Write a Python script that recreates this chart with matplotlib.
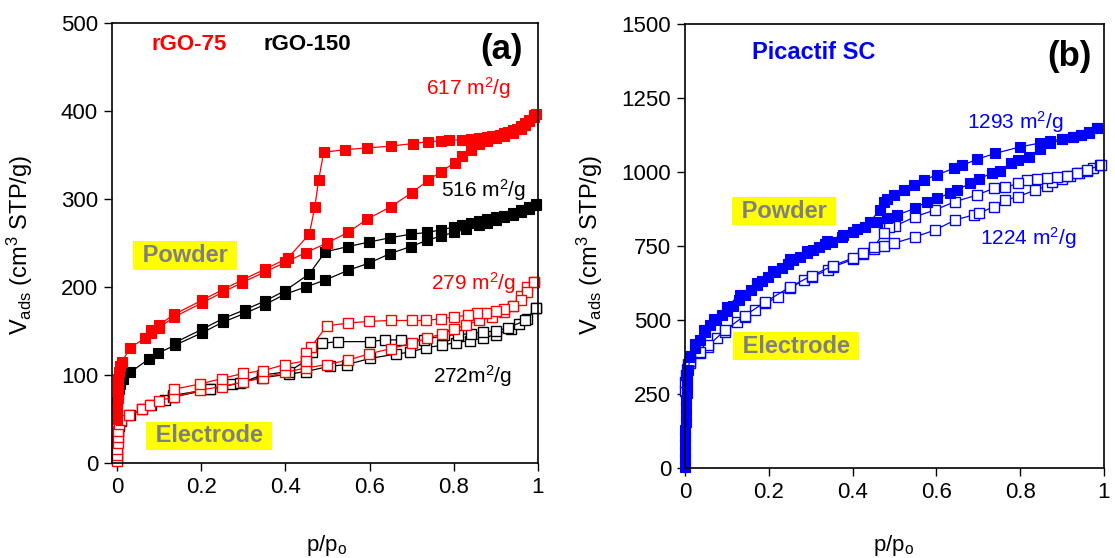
import matplotlib
matplotlib.use('Agg')
import matplotlib.pyplot as plt

plt.rcParams['font.family'] = ['Liberation Sans', 'DejaVu Sans']
plt.rcParams['mathtext.fontset'] = 'custom'
plt.rcParams['mathtext.rm'] = 'Liberation Sans'
plt.rcParams['mathtext.it'] = 'Liberation Sans:italic'
plt.rcParams['mathtext.bf'] = 'Liberation Sans:bold'

# ---- panel (a): rGO-75 / rGO-150, powder (filled) and electrode (open) ----
rgo75_pow_ads_x = [0.0005, 0.001, 0.0015, 0.002, 0.003, 0.005, 0.008, 0.012, 0.031, 0.067, 0.08, 0.1, 0.136,
                   0.202, 0.251, 0.297, 0.351, 0.40, 0.448, 0.499, 0.549, 0.594, 0.65, 0.70, 0.739, 0.769,
                   0.802, 0.82, 0.84, 0.86, 0.88, 0.90, 0.92, 0.94, 0.96, 0.97, 0.98, 0.99, 0.995]
rgo75_pow_ads_y = [50, 62, 74, 85, 95, 103, 110, 115, 131, 142, 148, 154, 166,
                   182, 194, 205, 217, 228, 239, 250, 262, 277, 291, 307, 321, 331,
                   341, 349, 356, 362, 366, 369, 372, 375, 380, 384, 388, 393, 396]
rgo75_pow_des_x = [0.99, 0.98, 0.97, 0.96, 0.95, 0.94, 0.93, 0.92, 0.91, 0.90, 0.89, 0.88, 0.87, 0.86,
                   0.84, 0.82, 0.79, 0.771, 0.739, 0.703, 0.65, 0.594, 0.541, 0.491, 0.479, 0.470,
                   0.457, 0.406, 0.351, 0.297, 0.251, 0.202, 0.136, 0.1, 0.08]
rgo75_pow_des_y = [395, 390, 386, 383, 380, 378, 376, 375, 373, 372, 371, 370, 369, 369,
                   368, 367, 367, 366, 365, 363, 360, 358, 356, 353, 321, 291,
                   260, 233, 220, 208, 197, 185, 169, 157, 151]

rgo150_pow_ads_x = [0.0005, 0.001, 0.002, 0.004, 0.008, 0.015, 0.031, 0.075, 0.098, 0.138, 0.202, 0.251,
                    0.303, 0.351, 0.40, 0.448, 0.495, 0.549, 0.598, 0.649, 0.698, 0.737, 0.77, 0.80,
                    0.83, 0.86, 0.88, 0.90, 0.92, 0.94, 0.96, 0.98, 0.995]
rgo150_pow_ads_y = [60, 70, 78, 84, 90, 96, 103, 118, 125, 134, 148, 160,
                    170, 180, 192, 200, 208, 219, 227, 238, 246, 253, 258, 262,
                    266, 270, 273, 276, 279, 282, 285, 289, 293]
rgo150_pow_des_x = [0.995, 0.98, 0.96, 0.94, 0.92, 0.90, 0.88, 0.86, 0.84, 0.82, 0.80, 0.77, 0.737,
                    0.698, 0.649, 0.598, 0.549, 0.495, 0.457, 0.40, 0.351, 0.303, 0.251, 0.202, 0.138]
rgo150_pow_des_y = [294, 291, 287, 284, 281, 279, 277, 275, 273, 271, 268, 265, 262,
                    260, 256, 251, 246, 240, 215, 196, 184, 174, 164, 152, 137]

rgo75_el_ads_x = [0.0003, 0.0006, 0.001, 0.0015, 0.002, 0.003, 0.005, 0.009, 0.029, 0.059, 0.079, 0.1,
                  0.136, 0.198, 0.249, 0.30, 0.348, 0.398, 0.448, 0.499, 0.549, 0.598, 0.65, 0.70,
                  0.737, 0.773, 0.80, 0.83, 0.86, 0.89, 0.92, 0.94, 0.96, 0.975, 0.99]
rgo75_el_ads_y = [2, 9, 16, 23, 30, 37, 44, 49, 55, 61, 66, 71,
                  75, 83, 87, 92, 97, 103, 108, 112, 117, 124, 130, 136,
                  142, 147, 152, 157, 162, 166, 172, 179, 190, 200, 206]
rgo75_el_des_x = [0.99, 0.975, 0.96, 0.94, 0.92, 0.90, 0.877, 0.855, 0.835, 0.80, 0.769, 0.733, 0.70,
                  0.65, 0.598, 0.549, 0.499, 0.461, 0.448, 0.448, 0.398, 0.348, 0.30, 0.249, 0.198, 0.136]
rgo75_el_des_y = [206, 194, 185, 179, 175, 173, 171, 170, 168, 166, 164, 162, 162,
                  162, 161, 159, 156, 132, 125, 116, 112, 105, 102, 96, 90, 84]

rgo150_el_ads_x = [0.0003, 0.0006, 0.001, 0.002, 0.004, 0.01, 0.03, 0.06, 0.08, 0.114, 0.134, 0.221,
                   0.273, 0.344, 0.408, 0.448, 0.505, 0.547, 0.602, 0.664, 0.696, 0.733, 0.773, 0.805,
                   0.838, 0.87, 0.90, 0.935, 0.956, 0.975, 0.995]
rgo150_el_ads_y = [5, 15, 25, 35, 42, 48, 55, 61, 66, 72, 77, 84,
                   90, 97, 101, 104, 110, 112, 119, 124, 126, 131, 134, 137,
                   139, 142, 146, 152, 158, 164, 176]
rgo150_el_des_x = [0.995, 0.97, 0.93, 0.90, 0.87, 0.84, 0.81, 0.777, 0.729, 0.674, 0.636, 0.60, 0.525,
                   0.487, 0.463, 0.448, 0.408, 0.344, 0.293, 0.221, 0.134]
rgo150_el_des_y = [176, 162, 154, 150, 149, 147, 146, 145, 140, 140, 140, 138, 138,
                   136, 126, 116, 104, 100, 91, 84, 75]

# ---- panel (b): Picactif SC ----
pic_pow_ads_x = [0.0002, 0.0004, 0.0006, 0.0008, 0.001, 0.0012, 0.0015, 0.002, 0.0025, 0.003, 0.004,
                 0.005, 0.006, 0.008, 0.012, 0.024, 0.036, 0.048, 0.06, 0.074, 0.088, 0.10, 0.115, 0.13,
                 0.143, 0.157, 0.171, 0.185, 0.199, 0.215, 0.231, 0.245, 0.259, 0.275, 0.291, 0.305,
                 0.319, 0.335, 0.35, 0.374, 0.402, 0.43, 0.458, 0.482, 0.506, 0.55, 0.577, 0.601,
                 0.633, 0.649, 0.681, 0.701, 0.733, 0.753, 0.777, 0.796, 0.82, 0.848, 0.872, 0.90,
                 0.925, 0.945, 0.965, 0.984]
pic_pow_ads_y = [5, 30, 55, 80, 105, 130, 155, 180, 205, 230, 255,
                 280, 305, 330, 376, 405, 432, 458, 483, 500, 517, 532, 547, 566,
                 584, 601, 618, 632, 646, 661, 675, 689, 703, 714, 727, 737,
                 748, 757, 765, 781, 798, 815, 832, 843, 855, 877, 900, 911,
                 928, 939, 962, 977, 996, 1005, 1029, 1041, 1052, 1078, 1097, 1110,
                 1118, 1125, 1133, 1147]
pic_pow_des_x = [0.984, 0.965, 0.945, 0.925, 0.90, 0.872, 0.848, 0.80, 0.741, 0.697, 0.661, 0.641,
                 0.601, 0.57, 0.546, 0.522, 0.498, 0.482, 0.474, 0.465, 0.442, 0.41, 0.378, 0.339,
                 0.291, 0.251, 0.211, 0.171, 0.131, 0.10, 0.07, 0.045, 0.025, 0.012]
pic_pow_des_y = [1147, 1135, 1126, 1119, 1112, 1104, 1098, 1085, 1063, 1043, 1022, 1012,
                 990, 973, 956, 939, 922, 910, 900, 872, 832, 806, 788, 766,
                 732, 705, 665, 624, 585, 545, 505, 465, 420, 380]

pic_el_ads_x = [0.0003, 0.001, 0.002, 0.004, 0.007, 0.012, 0.036, 0.056, 0.076, 0.096, 0.124, 0.143,
                0.167, 0.191, 0.223, 0.251, 0.283, 0.303, 0.342, 0.354, 0.402, 0.426, 0.45, 0.474,
                0.498, 0.55, 0.597, 0.645, 0.689, 0.701, 0.737, 0.765, 0.796, 0.836, 0.864, 0.876,
                0.90, 0.92, 0.94, 0.96, 0.975, 0.99]
pic_el_ads_y = [260, 290, 315, 335, 350, 355, 387, 410, 438, 461, 494, 511,
                534, 556, 579, 607, 635, 646, 669, 680, 705, 723, 739, 750,
                759, 781, 804, 838, 855, 860, 883, 905, 917, 939, 953, 967,
                975, 985, 995, 1003, 1012, 1022]
pic_el_des_x = [0.992, 0.96, 0.936, 0.912, 0.888, 0.864, 0.84, 0.817, 0.796, 0.765, 0.737, 0.697,
                0.645, 0.597, 0.55, 0.502, 0.486, 0.474, 0.45, 0.426, 0.402, 0.354, 0.303, 0.251,
                0.191, 0.143, 0.096, 0.056, 0.036, 0.012]
pic_el_des_y = [1024, 1006, 997, 988, 984, 980, 976, 973, 962, 948, 945, 922,
                900, 872, 849, 818, 815, 793, 745, 728, 710, 684, 650, 612,
                560, 515, 466, 414, 392, 360]

xticks = [0, 0.2, 0.4, 0.6, 0.8, 1]
xticklabels = ['0', '0.2', '0.4', '0.6', '0.8', '1']

RED = '#ff0000'
BLUE = '#0000ff'
GRAY = '#808080'
YELLOW = '#ffff00'
SQM = r' m$^{\mathregular{2}}$/g'


def filled(ax, x, y, c):
    ax.plot(x, y, '-', color=c, lw=0.9, marker='s', ms=6.5, mfc=c, mec=c, mew=0.8, clip_on=False)


def hollow(ax, x, y, c):
    ax.plot(x, y, '-', color=c, lw=0.9, marker='s', ms=6.5, mfc='white', mec=c, mew=1.0, clip_on=False)


def tag(ax, x, y, s):
    # grey bold word on a yellow patch
    ax.text(x, y, ' ' + s + ' ', color=GRAY, fontsize=17, fontweight='bold', ha='center', va='center',
            bbox=dict(boxstyle='square,pad=0.12', facecolor=YELLOW, edgecolor='none'))


def style(ax):
    ax.tick_params(direction='out', length=6, width=1, labelsize=16, top=False, right=False, pad=4)
    ax.set_xticks(xticks)
    ax.set_xticklabels(xticklabels)
    for s in ax.spines.values():
        s.set_linewidth(1.2)


fig = plt.figure(figsize=(11.15, 5.58), dpi=100)
ax1 = fig.add_axes([0.1004, 0.170, 0.382, 0.789])
ax2 = fig.add_axes([0.6143, 0.1613, 0.3758, 0.7957])

# panel (a)
hollow(ax1, rgo150_el_ads_x, rgo150_el_ads_y, 'black')
hollow(ax1, rgo150_el_des_x, rgo150_el_des_y, 'black')
hollow(ax1, rgo75_el_ads_x, rgo75_el_ads_y, RED)
hollow(ax1, rgo75_el_des_x, rgo75_el_des_y, RED)
filled(ax1, rgo150_pow_ads_x, rgo150_pow_ads_y, 'black')
filled(ax1, rgo150_pow_des_x, rgo150_pow_des_y, 'black')
filled(ax1, rgo75_pow_ads_x, rgo75_pow_ads_y, RED)
filled(ax1, rgo75_pow_des_x, rgo75_pow_des_y, RED)
ax1.set_xlim(-0.012, 1.0)
ax1.set_ylim(0, 500)
ax1.set_yticks(range(0, 501, 100))
style(ax1)

ax1.text(0.083, 475, 'rGO-75', color=RED, fontsize=16, fontweight='bold', va='center')
ax1.text(0.348, 475, 'rGO-150', color='black', fontsize=16, fontweight='bold', va='center')
ax1.text(0.965, 470, '(a)', color='black', fontsize=25, fontweight='bold', va='center', ha='right')
ax1.text(0.733, 426, '617' + SQM, color=RED, fontsize=15, va='center')
ax1.text(0.769, 310, '516' + SQM, color='black', fontsize=15, va='center')
ax1.text(0.745, 204, '279' + SQM, color=RED, fontsize=15, va='center')
ax1.text(0.752, 99, '272m$^{\\mathregular{2}}$/g', color='black', fontsize=15, va='center')
tag(ax1, 0.162, 236, 'Powder')
tag(ax1, 0.219, 31, 'Electrode')

# panel (b)
hollow(ax2, pic_el_ads_x, pic_el_ads_y, BLUE)
hollow(ax2, pic_el_des_x, pic_el_des_y, BLUE)
filled(ax2, pic_pow_ads_x, pic_pow_ads_y, BLUE)
filled(ax2, pic_pow_des_x, pic_pow_des_y, BLUE)
ax2.set_xlim(0, 1.0)
ax2.set_ylim(0, 1500)
ax2.set_yticks(range(0, 1501, 250))
style(ax2)

ax2.text(0.16, 1405, 'Picactif SC', color=BLUE, fontsize=17, fontweight='bold', va='center')
ax2.text(0.97, 1390, '(b)', color='black', fontsize=25, fontweight='bold', va='center', ha='right')
ax2.text(0.674, 1169, '1293' + SQM, color=BLUE, fontsize=15, va='center')
ax2.text(0.705, 777, '1224' + SQM, color=BLUE, fontsize=15, va='center')
tag(ax2, 0.237, 868, 'Powder')
tag(ax2, 0.265, 412, 'Electrode')

# axis titles
ylab = r'V$_{\mathregular{ads}}$ (cm$^{\mathregular{3}}$ STP/g)'
xlab = r'p/p$_{\mathregular{o}}$'
fig.text(20 / 1115, 1 - 245 / 558, ylab, rotation=90, fontsize=17, ha='center', va='center')
fig.text(590 / 1115, 1 - 245 / 558, ylab, rotation=90, fontsize=17, ha='center', va='center')
fig.text(327 / 1115, 1 - 546 / 558, xlab, fontsize=16, ha='center', va='center')
fig.text(894 / 1115, 1 - 546 / 558, xlab, fontsize=16, ha='center', va='center')

fig.savefig('out.png', dpi=100)
